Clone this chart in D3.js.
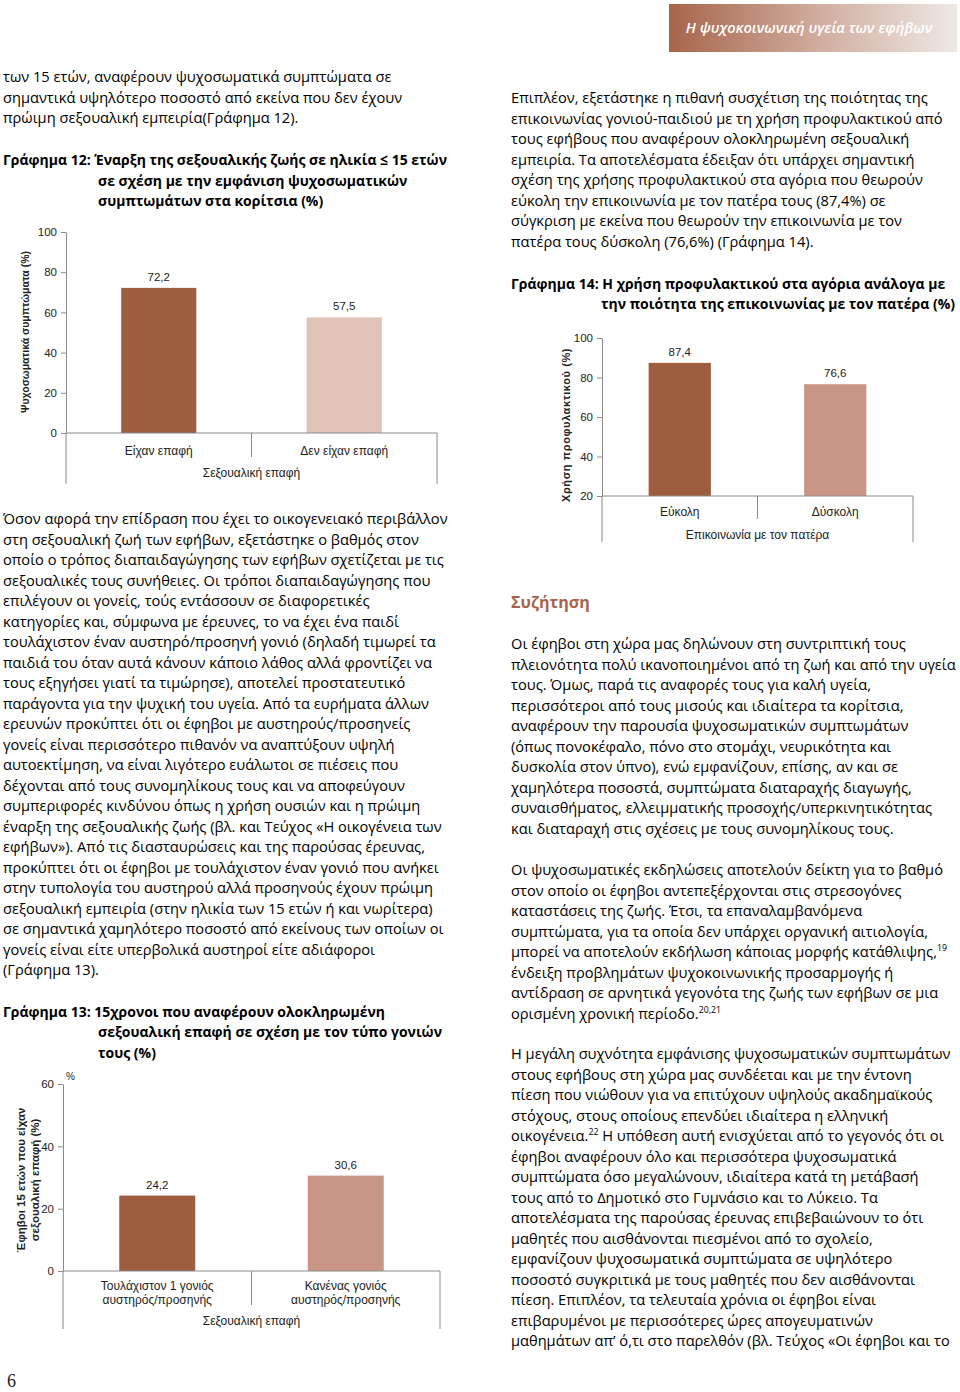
<!DOCTYPE html>
<html><head><meta charset="utf-8">
<script src="https://cdn.jsdelivr.net/npm/d3@7"></script>
<style>body{margin:0;background:#fff} svg{display:block}</style>
</head><body><svg id="page" width="960" height="1392"></svg>
<script>
// ---------- DATA ----------
const chart12Categories = ["Είχαν επαφή", "Δεν είχαν επαφή"];
const chart12Values = [72.2, 57.5];
const chart12Ticks = [0, 20, 40, 60, 80, 100];

const chart13Categories = [["Τουλάχιστον 1 γονιός", "αυστηρός/προσηνής"], ["Κανένας γονιός", "αυστηρός/προσηνής"]];
const chart13Values = [24.2, 30.6];
const chart13Ticks = [0, 20, 40, 60];

const chart14Categories = ["Εύκολη", "Δύσκολη"];
const chart14Values = [87.4, 76.6];
const chart14Ticks = [20, 40, 60, 80, 100];

// ---------- TEXT ----------
const topLeftText = [
  "των 15 ετών, αναφέρουν ψυχοσωματικά συμπτώματα σε",
  "σημαντικά υψηλότερο ποσοστό από εκείνα που δεν έχουν",
  "πρώιμη σεξουαλική εμπειρία(Γράφημα 12)."
];
const leftText = [
  "Όσον αφορά την επίδραση που έχει το οικογενειακό περιβάλλον",
  "στη σεξουαλική ζωή των εφήβων, εξετάστηκε ο βαθμός στον",
  "οποίο ο τρόπος διαπαιδαγώγησης των εφήβων σχετίζεται με τις",
  "σεξουαλικές τους συνήθειες. Οι τρόποι διαπαιδαγώγησης που",
  "επιλέγουν οι γονείς, τούς εντάσσουν σε διαφορετικές",
  "κατηγορίες και, σύμφωνα με έρευνες, το να έχει ένα παιδί",
  "τουλάχιστον έναν αυστηρό/προσηνή γονιό (δηλαδή τιμωρεί τα",
  "παιδιά του όταν αυτά κάνουν κάποιο λάθος αλλά φροντίζει να",
  "τους εξηγήσει γιατί τα τιμώρησε), αποτελεί προστατευτικό",
  "παράγοντα για την ψυχική του υγεία. Από τα ευρήματα άλλων",
  "ερευνών προκύπτει ότι οι έφηβοι με αυστηρούς/προσηνείς",
  "γονείς είναι περισσότερο πιθανόν να αναπτύξουν υψηλή",
  "αυτοεκτίμηση, να είναι λιγότερο ευάλωτοι σε πιέσεις που",
  "δέχονται από τους συνομηλίκους τους και να αποφεύγουν",
  "συμπεριφορές κινδύνου όπως η χρήση ουσιών και η πρώιμη",
  "έναρξη της σεξουαλικής ζωής (βλ. και Τεύχος «Η οικογένεια των",
  "εφήβων»). Από τις διασταυρώσεις και της παρούσας έρευνας,",
  "προκύπτει ότι οι έφηβοι με τουλάχιστον έναν γονιό που ανήκει",
  "στην τυπολογία του αυστηρού αλλά προσηνούς έχουν πρώιμη",
  "σεξουαλική εμπειρία (στην ηλικία των 15 ετών ή και νωρίτερα)",
  "σε σημαντικά χαμηλότερο ποσοστό από εκείνους των οποίων οι",
  "γονείς είναι είτε υπερβολικά αυστηροί είτε αδιάφοροι",
  "(Γράφημα 13)."
];
const rightText1 = [
  "Επιπλέον, εξετάστηκε η πιθανή συσχέτιση της ποιότητας της",
  "επικοινωνίας γονιού-παιδιού με τη χρήση προφυλακτικού από",
  "τους εφήβους που αναφέρουν ολοκληρωμένη σεξουαλική",
  "εμπειρία. Τα αποτελέσματα έδειξαν ότι υπάρχει σημαντική",
  "σχέση της χρήσης προφυλακτικού στα αγόρια που θεωρούν",
  "εύκολη την επικοινωνία με τον πατέρα τους (87,4%) σε",
  "σύγκριση με εκείνα που θεωρούν την επικοινωνία με τον",
  "πατέρα τους δύσκολη (76,6%) (Γράφημα 14)."
];
const rightText2 = [
  "Οι έφηβοι στη χώρα μας δηλώνουν στη συντριπτική τους",
  "πλειονότητα πολύ ικανοποιημένοι από τη ζωή και από την υγεία",
  "τους. Όμως, παρά τις αναφορές τους για καλή υγεία,",
  "περισσότεροι από τους μισούς και ιδιαίτερα τα κορίτσια,",
  "αναφέρουν την παρουσία ψυχοσωματικών συμπτωμάτων",
  "(όπως πονοκέφαλο, πόνο στο στομάχι, νευρικότητα και",
  "δυσκολία στον ύπνο), ενώ εμφανίζουν, επίσης, αν και σε",
  "χαμηλότερα ποσοστά, συμπτώματα διαταραχής διαγωγής,",
  "συναισθήματος, ελλειμματικής προσοχής/υπερκινητικότητας",
  "και διαταραχή στις σχέσεις με τους συνομηλίκους τους."
];
const rightText3 = [
  "Οι ψυχοσωματικές εκδηλώσεις αποτελούν δείκτη για το βαθμό",
  "στον οποίο οι έφηβοι αντεπεξέρχονται στις στρεσογόνες",
  "καταστάσεις της ζωής. Έτσι, τα επαναλαμβανόμενα",
  "συμπτώματα, για τα οποία δεν υπάρχει οργανική αιτιολογία,",
  ["μπορεί να αποτελούν εκδήλωση κάποιας μορφής κατάθλιψης,", "19"],
  "ένδειξη προβλημάτων ψυχοκοινωνικής προσαρμογής ή",
  "αντίδραση σε αρνητικά γεγονότα της ζωής των εφήβων σε μια",
  ["ορισμένη χρονική περίοδο.", "20,21"]
];
const rightText4 = [
  "Η μεγάλη συχνότητα εμφάνισης ψυχοσωματικών συμπτωμάτων",
  "στους εφήβους στη χώρα μας συνδέεται και με την έντονη",
  "πίεση που νιώθουν για να επιτύχουν υψηλούς ακαδημαϊκούς",
  "στόχους, στους οποίους επενδύει ιδιαίτερα η ελληνική",
  ["οικογένεια.", "22", " Η υπόθεση αυτή ενισχύεται από το γεγονός ότι οι"],
  "έφηβοι αναφέρουν όλο και περισσότερα ψυχοσωματικά",
  "συμπτώματα όσο μεγαλώνουν, ιδιαίτερα κατά τη μετάβασή",
  "τους από το Δημοτικό στο Γυμνάσιο και το Λύκειο. Τα",
  "αποτελέσματα της παρούσας έρευνας επιβεβαιώνουν το ότι",
  "μαθητές που αισθάνονται πιεσμένοι από το σχολείο,",
  "εμφανίζουν ψυχοσωματικά συμπτώματα σε υψηλότερο",
  "ποσοστό συγκριτικά με τους μαθητές που δεν αισθάνονται",
  "πίεση. Επιπλέον, τα τελευταία χρόνια οι έφηβοι είναι",
  "επιβαρυμένοι με περισσότερες ώρες απογευματινών",
  "μαθημάτων απ’ ό,τι στο παρελθόν (βλ. Τεύχος «Οι έφηβοι και το"
];

const svg = d3.select("#page");
const BODY = "'Open Sans','Noto Sans','DejaVu Sans',sans-serif";
const CHART = "'Liberation Sans',Arial,sans-serif";
const TXT = "#000";

function measure(str, size, weight) {
  const t = svg.append("text").attr("font-family", BODY).attr("font-size", size)
    .attr("font-weight", weight).text(str);
  const w = t.node().getComputedTextLength();
  t.remove();
  return w;
}
const kBody = 445 / measure(leftText[0], 15, 400);
const kTitle = 444 / measure("Γράφημα 12: Έναρξη της σεξουαλικής ζωής σε ηλικία ≤ 15 ετών", 15, 700);

function line(g, x, y, content, opts = {}) {
  const k = opts.k || kBody;
  const t = g.append("text")
    .attr("transform", `translate(${x},${y}) scale(${k},1)`)
    .attr("font-family", BODY)
    .attr("font-size", opts.size || 15)
    .attr("font-weight", opts.weight || 400)
    .attr("fill", opts.fill || TXT)
    .attr("text-anchor", opts.anchor || "start");
  if (typeof content === "string") {
    t.text(content);
  } else {
    content.forEach((part, i) => {
      const sup = i % 2 === 1;
      t.append("tspan")
        .attr("font-size", sup ? 9 : null)
        .attr("dy", sup ? -6 : (i > 0 ? 6 : 0))
        .text(part);
    });
  }
  return t;
}
function para(lines, x, y0, lh = 20.5) {
  const g = svg.append("g");
  lines.forEach((l, i) => line(g, x, y0 + i * lh, l));
}

// Header
const defs = svg.append("defs");
const grad = defs.append("linearGradient").attr("id", "hdr").attr("x1", "0").attr("x2", "1");
grad.append("stop").attr("offset", "0").attr("stop-color", "#a7654a");
grad.append("stop").attr("offset", "0.5").attr("stop-color", "#cfaa9c");
grad.append("stop").attr("offset", "1").attr("stop-color", "#eee8e5");
svg.append("rect").attr("x", 669).attr("y", 4).attr("width", 288).attr("height", 48).attr("fill", "url(#hdr)");
svg.append("text").attr("x", 809).attr("y", 33).attr("text-anchor", "middle")
  .attr("font-family", BODY).attr("font-size", 15).attr("font-style", "italic").attr("font-weight", 600)
  .attr("fill", "#fff").attr("transform", `translate(809,0) scale(${kBody},1) translate(-809,0)`)
  .text("Η ψυχοκοινωνική υγεία των εφήβων");

// Body text
para(topLeftText, 3, 82);
para(leftText, 3, 524);
para(rightText1, 511, 103);
para(rightText2, 511, 649);
para(rightText3, 511, 875);
para(rightText4, 511, 1059);

// Heading
line(svg, 511, 608, "Συζήτηση", { size: 16.5, weight: 700, fill: "#a8644a" });

// Chart titles
const tg = svg.append("g");
const tOpt = { weight: 700, k: kTitle };
line(tg, 3, 165, "Γράφημα 12: Έναρξη της σεξουαλικής ζωής σε ηλικία ≤ 15 ετών", tOpt);
line(tg, 98, 186, "σε σχέση με την εμφάνιση ψυχοσωματικών", tOpt);
line(tg, 98, 206, "συμπτωμάτων στα κορίτσια (%)", tOpt);
line(tg, 3, 1017, "Γράφημα 13: 15χρονοι που αναφέρουν ολοκληρωμένη", tOpt);
line(tg, 98, 1037, "σεξουαλική επαφή σε σχέση με τον τύπο γονιών", tOpt);
line(tg, 98, 1058, "τους (%)", tOpt);
line(tg, 511, 289, "Γράφημα 14: Η χρήση προφυλακτικού στα αγόρια ανάλογα με", tOpt);
line(tg, 955, 309, "την ποιότητα της επικοινωνίας με τον πατέρα (%)", Object.assign({ anchor: "end" }, tOpt));

// Page number
svg.append("text").attr("x", 7).attr("y", 1387).attr("font-family", "'Liberation Serif','DejaVu Serif',serif")
  .attr("font-size", 18).attr("fill", "#222").text("6");

// ---------- CHARTS ----------
const fmt = v => d3.format(".1f")(v).replace(".", ",");
const AX = "#8a8a8a";

function barChart(o) {
  const g = svg.append("g");
  const y = d3.scaleLinear().domain(o.domain).range([o.yBottom, o.yTop]);
  const x = d3.scaleBand().domain(o.values.map((d, i) => i)).range([o.x0, o.x1]).padding(0);
  const base = y(o.domain[0]);

  g.selectAll("rect.bar").data(o.values).enter().append("rect")
    .attr("x", (d, i) => x(i) + x.bandwidth() * (1 - o.barFrac) / 2)
    .attr("width", x.bandwidth() * o.barFrac)
    .attr("y", d => y(d))
    .attr("height", d => base - y(d))
    .attr("fill", (d, i) => o.colors[i]);

  g.selectAll("text.val").data(o.values).enter().append("text")
    .attr("x", (d, i) => x(i) + x.bandwidth() / 2)
    .attr("y", d => y(d) - 7)
    .attr("text-anchor", "middle").attr("font-family", CHART).attr("font-size", 11.5).attr("fill", "#222")
    .text(fmt);

  const ax = g.append("g").attr("transform", `translate(${o.x0},0)`)
    .call(d3.axisLeft(y).tickValues(o.ticks).tickSize(5).tickPadding(4).tickSizeOuter(0).tickFormat(d3.format("d")));
  ax.select(".domain").attr("stroke", AX);
  ax.selectAll(".tick line").attr("stroke", AX);
  ax.selectAll(".tick text").attr("font-family", CHART).attr("font-size", 11.5).attr("fill", "#222");

  g.append("line").attr("x1", o.x0).attr("x2", o.x1).attr("y1", base).attr("y2", base).attr("stroke", AX);
  const seps = [o.x0].concat(o.values.slice(1).map((d, i) => x(i + 1)), [o.x1]);
  seps.forEach((sx, i) => {
    const outer = i === 0 || i === seps.length - 1;
    g.append("line").attr("x1", sx).attr("x2", sx).attr("y1", base)
      .attr("y2", outer ? o.outerBottom : o.innerBottom).attr("stroke", AX);
  });

  o.categories.forEach((c, i) => {
    const lines = Array.isArray(c) ? c : [c];
    const t = g.append("text").attr("text-anchor", "middle").attr("font-family", CHART)
      .attr("font-size", 12).attr("fill", "#222");
    lines.forEach((l, j) => t.append("tspan").attr("x", x(i) + x.bandwidth() / 2)
      .attr("y", o.catY + j * 13.5).text(l));
  });
  g.append("text").attr("x", (o.x0 + o.x1) / 2).attr("y", o.xTitleY).attr("text-anchor", "middle")
    .attr("font-family", CHART).attr("font-size", 12).attr("fill", "#222").text(o.xTitle);

  const yt = g.append("text").attr("transform", `translate(${o.yTitleX},${o.yTitleCY}) rotate(-90)`)
    .attr("text-anchor", "middle").attr("font-family", CHART).attr("font-size", o.yTitleSize || 11)
    .attr("font-weight", 700).attr("fill", "#222").attr("letter-spacing", o.yTitleLS || 0);
  o.yTitle.forEach((l, j) => yt.append("tspan").attr("x", 0).attr("y", j * 14).text(l));
  return { g, x, y };
}

barChart({
  values: chart12Values, categories: chart12Categories, ticks: chart12Ticks,
  domain: [0, 100], yBottom: 433, yTop: 232, x0: 66, x1: 437, barFrac: 0.405,
  colors: ["#9d5d3e", "#dfc3b8"], outerBottom: 484, innerBottom: 457,
  catY: 455, xTitle: "Σεξουαλική επαφή", xTitleY: 477,
  yTitle: ["Ψυχοσωματικά συμπτώματα (%)"], yTitleX: 29, yTitleCY: 332, yTitleSize: 10.5
});

const c13 = barChart({
  values: chart13Values, categories: chart13Categories, ticks: chart13Ticks,
  domain: [0, 60], yBottom: 1271, yTop: 1084, x0: 63, x1: 440, barFrac: 0.403,
  colors: ["#9d5d3e", "#c99584"], outerBottom: 1329, innerBottom: 1305,
  catY: 1290, xTitle: "Σεξουαλική επαφή", xTitleY: 1325,
  yTitle: ["Έφηβοι 15 ετών που είχαν", "σεξουαλική επαφή (%)"], yTitleX: 25, yTitleCY: 1180, yTitleSize: 11.5
});
c13.g.append("text").attr("x", 66).attr("y", 1080).attr("font-family", CHART).attr("font-size", 10)
  .attr("fill", "#222").text("%");

barChart({
  values: chart14Values, categories: chart14Categories, ticks: chart14Ticks,
  domain: [20, 100], yBottom: 496, yTop: 338, x0: 602, x1: 913, barFrac: 0.4,
  colors: ["#9d5d3e", "#c99584"], outerBottom: 542, innerBottom: 519,
  catY: 516, xTitle: "Επικοινωνία με τον πατέρα", xTitleY: 539,
  yTitle: ["Χρήση προφυλακτικού (%)"], yTitleX: 570, yTitleCY: 425, yTitleSize: 11, yTitleLS: 0.6
});
</script></body></html>
